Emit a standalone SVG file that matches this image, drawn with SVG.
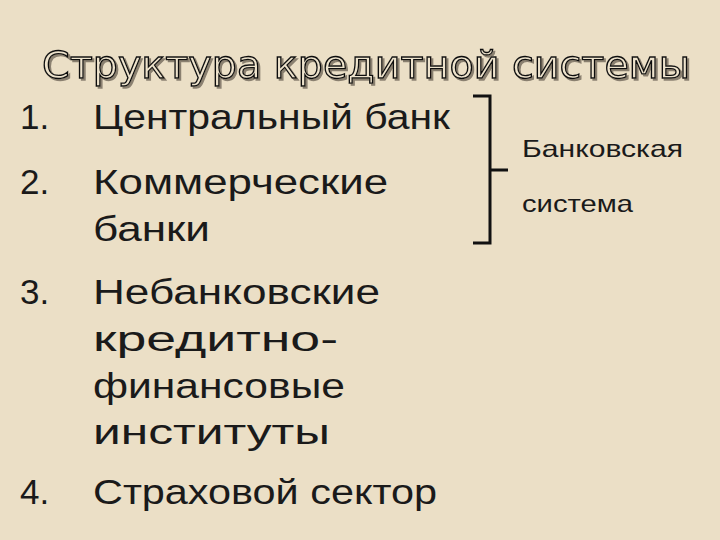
<svg xmlns="http://www.w3.org/2000/svg" width="720" height="540" viewBox="0 0 720 540">
<defs><filter id="sh" x="-5%" y="-20%" width="110%" height="150%"><feOffset in="SourceAlpha" dx="2" dy="2" result="o"/><feFlood flood-color="#8a8070"/><feComposite in2="o" operator="in" result="s"/><feMerge><feMergeNode in="s"/><feMergeNode in="SourceGraphic"/></feMerge></filter></defs>
<style>
.t{font-family:"Liberation Sans",Arial,sans-serif;fill:#1a1a1a}
.b{font-size:35px}
.s{font-size:24px}
.ti{font-family:"DejaVu Sans","Liberation Sans",sans-serif;font-size:38px;fill:#eee3cc;stroke:#111;stroke-width:1.3}
.br{fill:none;stroke:#111;stroke-width:3}
</style>
<rect width="720" height="540" fill="#ebdfc6"/>
<g id="title">
<text class="ti" x="42" y="78" textLength="648" lengthAdjust="spacingAndGlyphs" filter="url(#sh)">Структура кредитной системы</text>
</g>
<g id="item1"><text class="t b" x="20" y="129">1.</text><text class="t b" x="93" y="129" textLength="357" lengthAdjust="spacingAndGlyphs">Центральный банк</text></g>
<g id="item2"><text class="t b" x="20" y="194">2.</text><text class="t b" x="93" y="194" textLength="295" lengthAdjust="spacingAndGlyphs">Коммерческие</text><text class="t b" x="93" y="241" textLength="117" lengthAdjust="spacingAndGlyphs">банки</text></g>
<g id="item3"><text class="t b" x="20" y="304">3.</text><text class="t b" x="93" y="304" textLength="287" lengthAdjust="spacingAndGlyphs">Небанковские</text><text class="t b" x="93" y="351" textLength="245" lengthAdjust="spacingAndGlyphs">кредитно-</text><text class="t b" x="93" y="398" textLength="252" lengthAdjust="spacingAndGlyphs">финансовые</text><text class="t b" x="93" y="444" textLength="237" lengthAdjust="spacingAndGlyphs">институты</text></g>
<g id="item4"><text class="t b" x="20" y="504">4.</text><text class="t b" x="93" y="504" textLength="344" lengthAdjust="spacingAndGlyphs">Страховой сектор</text></g>
<g id="connectors"><path class="br" d="M473,96 H490 V243 H473 M490,170 H508"/></g>
<g id="bank"><text class="t s" x="522" y="157" textLength="161" lengthAdjust="spacingAndGlyphs">Банковская</text><text class="t s" x="522" y="212" textLength="111" lengthAdjust="spacingAndGlyphs">система</text></g>
</svg>
